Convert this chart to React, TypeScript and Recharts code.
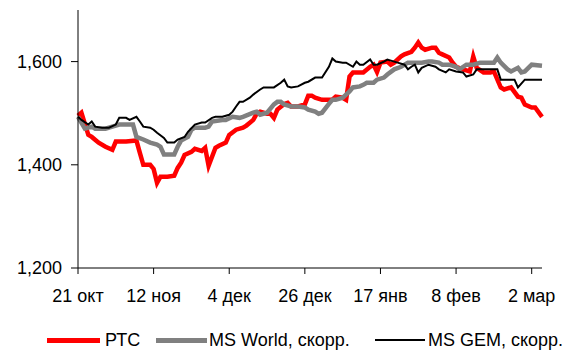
import { LineChart, Line, XAxis, YAxis } from 'recharts';

// day 0 = 21 Oct
const tickDays = [0, 22, 44, 66, 88, 110, 132];
const tickLabels = ['21 окт', '12 ноя', '4 дек', '26 дек', '17 янв', '8 фев', '2 мар'];
const yTicks = [1200, 1400, 1600];

const rtsDays = [0, 1, 3, 4, 6, 8, 10, 11, 14, 17, 18, 19, 21, 22, 23, 24, 26, 28, 29, 30, 31, 33, 34, 36, 37, 38, 40, 41, 43, 44, 46, 48, 49, 51, 52, 53, 55, 56, 57, 58, 60, 61, 62, 64, 66, 67, 68, 69, 71, 74, 75, 77, 78, 79, 80, 83, 85, 86, 87, 88, 90, 91, 92, 94, 95, 97, 98, 99, 100, 101, 103, 104, 105, 106, 108, 109, 110, 112, 114, 115, 116, 118, 120, 121, 123, 124, 126, 128, 129, 130, 132, 133, 135];
const rtsValues = [1495, 1501, 1458, 1454, 1443, 1435, 1429, 1445, 1445, 1447, 1423, 1400, 1400, 1392, 1365, 1377, 1377, 1379, 1394, 1404, 1419, 1425, 1431, 1427, 1433, 1398, 1433, 1437, 1443, 1458, 1468, 1472, 1476, 1487, 1499, 1503, 1499, 1499, 1491, 1507, 1518, 1520, 1513, 1513, 1517, 1534, 1534, 1530, 1526, 1526, 1532, 1530, 1526, 1571, 1579, 1579, 1590, 1594, 1580, 1598, 1600, 1594, 1598, 1610, 1614, 1619, 1627, 1637, 1627, 1623, 1627, 1627, 1617, 1614, 1608, 1598, 1590, 1585, 1581, 1610, 1588, 1579, 1579, 1581, 1550, 1546, 1550, 1532, 1530, 1517, 1511, 1511, 1493];

const worldDays = [0, 2, 4, 5, 8, 10, 12, 16, 17, 19, 21, 23, 24, 25, 28, 29, 30, 32, 33, 34, 37, 38, 39, 42, 43, 45, 47, 48, 51, 52, 53, 55, 57, 58, 59, 60, 62, 64, 66, 67, 69, 70, 71, 73, 74, 75, 77, 78, 79, 80, 82, 83, 84, 86, 87, 89, 90, 92, 94, 96, 98, 100, 102, 103, 105, 106, 108, 110, 111, 113, 115, 117, 119, 121, 122, 123, 125, 126, 128, 129, 130, 132, 135];
const worldValues = [1493, 1470, 1474, 1470, 1470, 1474, 1478, 1478, 1454, 1449, 1443, 1439, 1435, 1420, 1420, 1435, 1447, 1454, 1468, 1472, 1472, 1474, 1484, 1487, 1487, 1493, 1491, 1493, 1501, 1503, 1497, 1501, 1517, 1522, 1522, 1517, 1513, 1513, 1511, 1507, 1503, 1499, 1501, 1518, 1526, 1526, 1530, 1536, 1542, 1550, 1552, 1555, 1559, 1559, 1565, 1569, 1575, 1585, 1590, 1598, 1598, 1598, 1600, 1600, 1598, 1594, 1594, 1590, 1585, 1594, 1594, 1598, 1598, 1598, 1608, 1598, 1585, 1581, 1588, 1579, 1581, 1594, 1592, 1592];

const gemDays = [0, 1, 3, 4, 5, 7, 9, 11, 12, 14, 15, 17, 18, 19, 21, 22, 23, 25, 26, 28, 29, 31, 32, 34, 36, 37, 39, 40, 42, 44, 45, 46, 47, 48, 50, 51, 53, 54, 57, 59, 60, 61, 62, 64, 66, 67, 69, 71, 73, 74, 75, 77, 78, 80, 81, 82, 83, 85, 86, 87, 89, 90, 92, 93, 95, 96, 97, 98, 99, 100, 102, 104, 105, 107, 108, 110, 112, 113, 115, 116, 119, 122, 123, 127, 128, 130, 135];
const gemValues = [1493, 1487, 1478, 1484, 1474, 1472, 1472, 1478, 1491, 1491, 1487, 1493, 1484, 1474, 1472, 1468, 1462, 1452, 1443, 1443, 1449, 1454, 1464, 1478, 1482, 1482, 1491, 1493, 1493, 1497, 1503, 1513, 1522, 1522, 1530, 1536, 1546, 1550, 1550, 1559, 1565, 1552, 1550, 1552, 1559, 1561, 1569, 1569, 1590, 1606, 1600, 1598, 1598, 1590, 1600, 1594, 1594, 1604, 1594, 1594, 1600, 1604, 1600, 1598, 1594, 1585, 1590, 1594, 1579, 1588, 1594, 1590, 1585, 1579, 1585, 1581, 1579, 1571, 1575, 1585, 1585, 1585, 1565, 1565, 1550, 1565, 1565];

const toPoints = (days: number[], values: number[]) =>
  days.map((d, i) => ({ d, v: values[i] }));

const rtsData = toPoints(rtsDays, rtsValues);
const worldData = toPoints(worldDays, worldValues);
const gemData = toPoints(gemDays, gemValues);

const font = '"Liberation Sans", Arial, sans-serif';
const tickStyle = { fontSize: 18, fill: '#000', fontFamily: font };

const legendItems = [
  { label: 'РТС', color: '#ff0000', width: 5, left: 47, lineLen: 53, gap: 5 },
  { label: 'MS World, скорр.', color: '#808080', width: 5, left: 156, lineLen: 51, gap: 2 },
  { label: 'MS GEM, скорр.', color: '#000000', width: 2, left: 375, lineLen: 50, gap: 3 },
];

export default function App() {
  return (
    <div
      style={{
        position: 'absolute',
        left: 0,
        top: 0,
        width: 570,
        height: 354,
        background: '#fff',
        fontFamily: font,
      }}
    >
      <LineChart
        width={570}
        height={354}
        margin={{ top: 10, right: 28, bottom: 0, left: 8 }}
      >
        <XAxis
          dataKey="d"
          type="number"
          domain={[0, 135]}
          ticks={tickDays}
          tickFormatter={(d: number) => tickLabels[tickDays.indexOf(d)] ?? ''}
          allowDuplicatedCategory={false}
          height={86}
          stroke="#000"
          tickSize={6}
          tickMargin={15}
          tick={tickStyle}
          interval={0}
        />
        <YAxis
          type="number"
          domain={[1200, 1700]}
          ticks={yTicks}
          tickFormatter={(v: number) => v.toLocaleString('en-US')}
          width={70}
          stroke="#000"
          tickSize={7}
          tickMargin={9}
          tick={tickStyle}
          interval={0}
        />
        <Line
          data={rtsData}
          dataKey="v"
          stroke="#ff0000"
          strokeWidth={4.5}
          dot={false}
          type="linear"
          isAnimationActive={false}
        />
        <Line
          data={worldData}
          dataKey="v"
          stroke="#808080"
          strokeWidth={4.5}
          dot={false}
          type="linear"
          isAnimationActive={false}
        />
        <Line
          data={gemData}
          dataKey="v"
          stroke="#000000"
          strokeWidth={2}
          dot={false}
          type="linear"
          isAnimationActive={false}
        />
      </LineChart>
      {legendItems.map((it) => (
        <div
          key={it.label}
          style={{
            position: 'absolute',
            left: it.left,
            top: 329,
            height: 22,
            display: 'flex',
            alignItems: 'center',
            fontSize: 18,
            color: '#000',
            whiteSpace: 'nowrap',
          }}
        >
          <span
            style={{
              display: 'inline-block',
              width: it.lineLen,
              height: it.width,
              background: it.color,
              marginRight: it.gap,
            }}
          />
          <span>{it.label}</span>
        </div>
      ))}
    </div>
  );
}
